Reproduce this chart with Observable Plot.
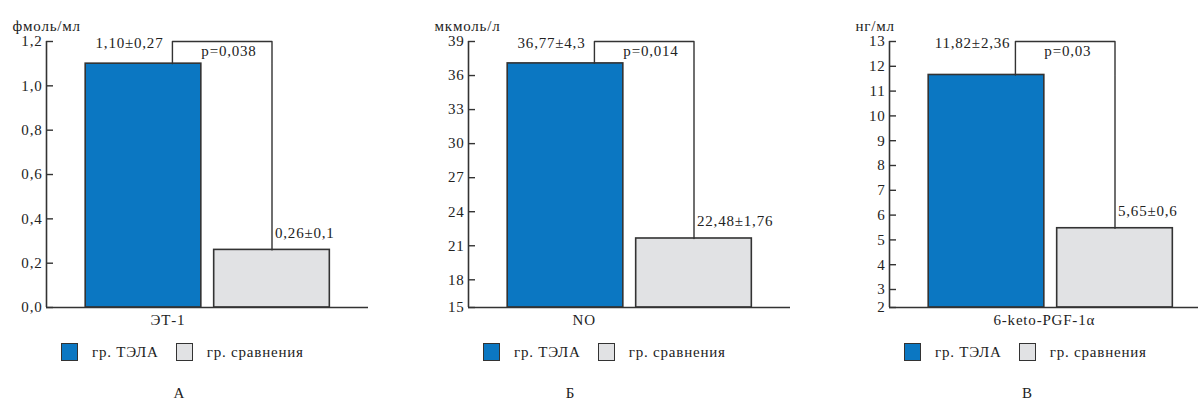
<!DOCTYPE html>
<html>
<head>
<meta charset="utf-8">
<script src="https://cdn.jsdelivr.net/npm/d3@7"></script>
<script src="https://cdn.jsdelivr.net/npm/@observablehq/plot@0.6"></script>
<style>
  html, body { margin: 0; padding: 0; background: #fff; }
  body { width: 1198px; height: 402px; overflow: hidden; position: relative; font-family: "Liberation Serif", "Times New Roman", "DejaVu Serif", serif; color: #222; }
  .panel { position: absolute; top: 0; width: 370px; }
  .panel svg { max-width: none !important; width: 370px; height: 330px; }
  .legend { position: absolute; top: 343px; display: flex; align-items: center; font-size: 15px; letter-spacing: 0.8px; white-space: nowrap; }
  .sw { width: 15px; height: 16px; border: 1.5px solid #333; display: inline-block; }
  .letter { position: absolute; top: 386px; font-size: 15px; line-height: 15px; transform: translateX(-50%); }
</style>
</head>
<body>
<div id="root"></div>
<script>
// ---- data ----
const groups = ["гр. ТЭЛА", "гр. сравнения"];
const groupColors = ["#0b77c2", "#e1e2e4"];
const indicators = ["ЭТ-1", "NO", "6-keto-PGF-1α"];
const units = ["фмоль/мл", "мкмоль/л", "нг/мл"];
const panelLetters = ["А", "Б", "В"];
const valuesTELA = [1.10, 37.07, 11.65];
const valuesCompare = [0.26, 21.64, 5.47];
const labelsTELA = ["1,10±0,27", "36,77±4,3", "11,82±2,36"];
const labelsCompare = ["0,26±0,1", "22,48±1,76", "5,65±0,6"];
const pValues = ["p=0,038", "p=0,014", "p=0,03"];
const yTicksA = [0, 0.2, 0.4, 0.6, 0.8, 1.0, 1.2];
const yTicksB = [15, 18, 21, 24, 27, 30, 33, 36, 39];
const yTicksC = [2, 3, 4, 5, 6, 7, 8, 9, 10, 11, 12, 13];
const yTicks = [yTicksA, yTicksB, yTicksC];
const tickFormats = [d => d.toFixed(1).replace(".", ","), d => String(d), d => String(d)];

// ---- layout ----
const panelLeft = [0, 422, 843];
const letterX = [179, 570, 1027];
const W = 370, H = 330, mL = 46, mR = 2, mT = 41, mB = 23;
const plotBottom = H - mB;
// first (axis-break) segment height in px per panel
const firstSeg = [44.3, 27.7, 18];
const xDomain = [-0.755, 1.751];
const half = 0.45;
const ink = "#333";
const fontFamily = "'Liberation Serif', 'Times New Roman', 'DejaVu Serif', serif";

const root = document.getElementById("root");

for (let p = 0; p < 3; p++) {
  const ticks = yTicks[p];
  const yMin = ticks[0], yBreak = ticks[1], yMax = ticks[ticks.length - 1];
  const bars = groups.map((g, i) => ({
    group: g, i, value: i === 0 ? valuesTELA[p] : valuesCompare[p], color: groupColors[i]
  }));
  const bx = bars[0].i + half * 0.5; // 75% across first bar
  const cx = bars[1].i;              // centre of second bar
  const bracket = [
    {x: bx, y: bars[0].value}, {x: bx, y: yMax}, {x: cx, y: yMax}, {x: cx, y: bars[1].value}
  ];

  const chart = Plot.plot({
    width: W, height: H,
    marginLeft: mL, marginRight: mR, marginTop: mT, marginBottom: mB,
    style: {fontFamily, fontSize: "15px", color: "#222", background: "transparent", overflow: "visible", letterSpacing: "0.8px"},
    x: {type: "linear", domain: xDomain, axis: null},
    y: {type: "linear", domain: [yMin, yBreak, yMax], range: [plotBottom, plotBottom - firstSeg[p], mT], axis: null},
    marks: [
      Plot.rectY(bars, {x1: d => d.i - half, x2: d => d.i + half, y1: yMin, y2: "value", fill: "color", stroke: ink, strokeWidth: 1.6}),
      Plot.axisY({ticks, tickFormat: tickFormats[p], tickSize: -7, tickPadding: 11, label: null, stroke: ink, strokeWidth: 1.4, fill: "#222", fontFamily}),
      Plot.ruleX([xDomain[0]], {stroke: ink, strokeWidth: 1.6}),
      Plot.ruleY([yMin], {stroke: ink, strokeWidth: 1.6}),
      Plot.line(bracket, {x: "x", y: "y", stroke: ink, strokeWidth: 1.4}),
      Plot.text([labelsTELA[p]], {x: bars[0].i, y: yMax, text: d => d, dx: -14, dy: 2, fill: "#222", fontFamily}),
      Plot.text([pValues[p]], {x: bars[0].i + half, y: yMax, text: d => d, textAnchor: "start", dy: 10, fill: "#222", fontFamily}),
      Plot.text([labelsCompare[p]], {x: cx, y: bars[1].value, text: d => d, textAnchor: "start", dx: 3, dy: -17, fill: "#222", fontFamily}),
      Plot.text([indicators[p]], {x: bars[0].i, y: yMin, text: d => d, textAnchor: "start", dx: 7, dy: 13, fill: "#222", fontFamily}),
      Plot.text([units[p]], {frameAnchor: "top-left", text: d => d, textAnchor: "start", dx: -34, dy: -21, fill: "#222", fontFamily})
    ]
  });

  const panel = document.createElement("div");
  panel.className = "panel";
  panel.style.left = panelLeft[p] + "px";
  panel.appendChild(chart);
  root.appendChild(panel);

  const legend = document.createElement("div");
  legend.className = "legend";
  legend.style.left = (panelLeft[p] + 61) + "px";
  groups.forEach((g, i) => {
    const sw = document.createElement("span");
    sw.className = "sw";
    sw.style.background = groupColors[i];
    sw.style.marginRight = "14px";
    const t = document.createElement("span");
    t.textContent = g;
    if (i === 0) t.style.marginRight = "17px";
    legend.appendChild(sw);
    legend.appendChild(t);
  });
  root.appendChild(legend);

  const letter = document.createElement("div");
  letter.className = "letter";
  letter.style.left = letterX[p] + "px";
  letter.textContent = panelLetters[p];
  root.appendChild(letter);
}
</script>
</body>
</html>
